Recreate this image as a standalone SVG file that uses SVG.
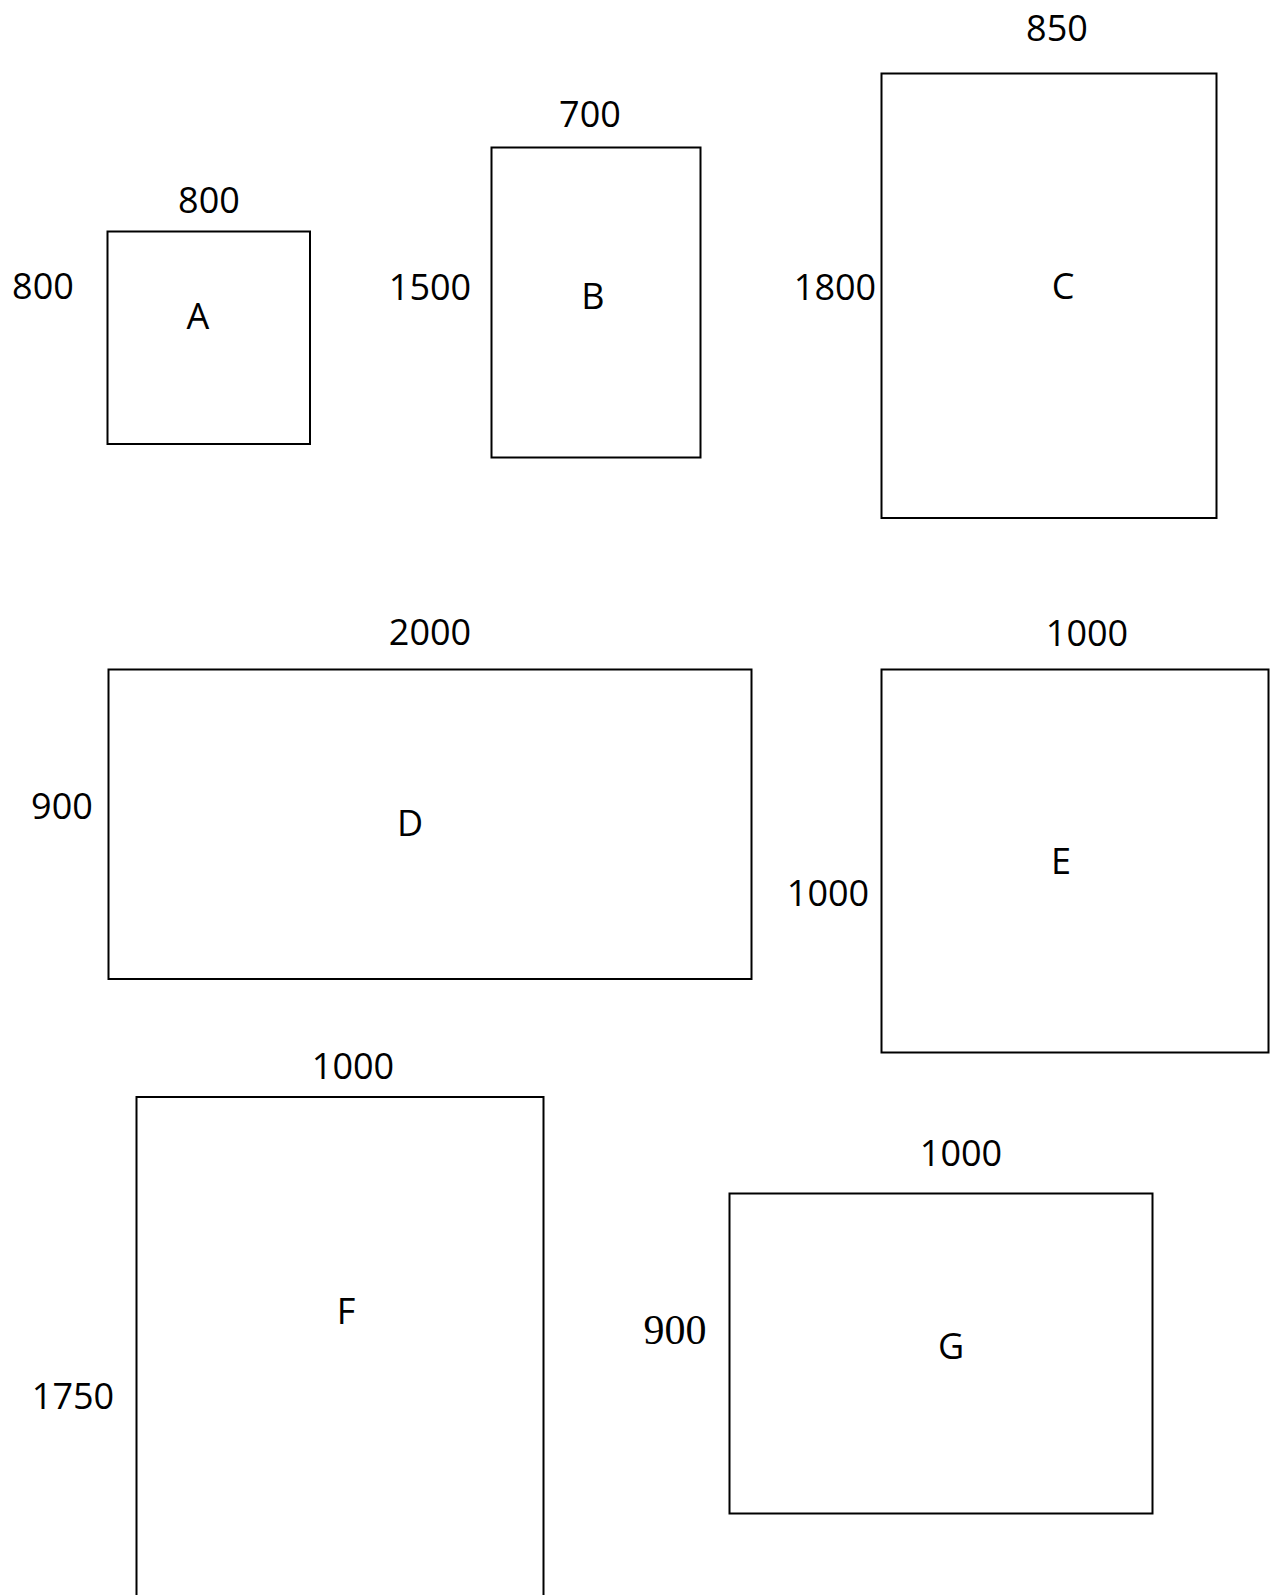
<svg xmlns="http://www.w3.org/2000/svg" width="1271" height="1595" viewBox="0 0 1271 1595">
<style>
.box{fill:#fff;stroke:#000;stroke-width:2}
.t{font-family:"Open Sans","Noto Sans","DejaVu Sans",sans-serif;font-size:36px;fill:#000;text-anchor:middle}
.s{font-family:"Liberation Serif","DejaVu Serif",serif;font-size:42px;fill:#000;text-anchor:middle}
</style>
<rect width="1271" height="1595" fill="#fff"/>
<g id="connectors"></g>
<g id="A">
<rect class="box" x="107.5" y="231.5" width="202.5" height="212.5"/>
<text class="t" x="209" y="213">800</text>
<text class="t" x="43" y="299">800</text>
<text class="t" x="198" y="329">A</text>
</g>
<g id="B">
<rect class="box" x="491.5" y="147.5" width="209" height="310"/>
<text class="t" x="590" y="127">700</text>
<text class="t" x="430" y="300">1500</text>
<text class="t" x="593" y="309">B</text>
</g>
<g id="C">
<rect class="box" x="881.5" y="73.5" width="335" height="444.5"/>
<text class="t" x="1057" y="41">850</text>
<text class="t" x="835" y="300">1800</text>
<text class="t" x="1063" y="299">C</text>
</g>
<g id="D">
<rect class="box" x="108.5" y="669.5" width="643" height="309.5"/>
<text class="t" x="430" y="645">2000</text>
<text class="t" x="62" y="819">900</text>
<text class="t" x="410" y="836">D</text>
</g>
<g id="E">
<rect class="box" x="881.5" y="669.5" width="387" height="383"/>
<text class="t" x="1087" y="646">1000</text>
<text class="t" x="828" y="906">1000</text>
<text class="t" x="1061" y="874">E</text>
</g>
<g id="F">
<rect class="box" x="136.5" y="1097" width="407" height="520"/>
<text class="t" x="353" y="1079">1000</text>
<text class="t" x="73" y="1409">1750</text>
<text class="t" x="346" y="1324">F</text>
</g>
<g id="G">
<rect class="box" x="729.5" y="1193.5" width="423" height="320"/>
<text class="t" x="961" y="1166">1000</text>
<text class="s" x="675" y="1344">900</text>
<text class="t" x="951" y="1359">G</text>
</g>
</svg>
